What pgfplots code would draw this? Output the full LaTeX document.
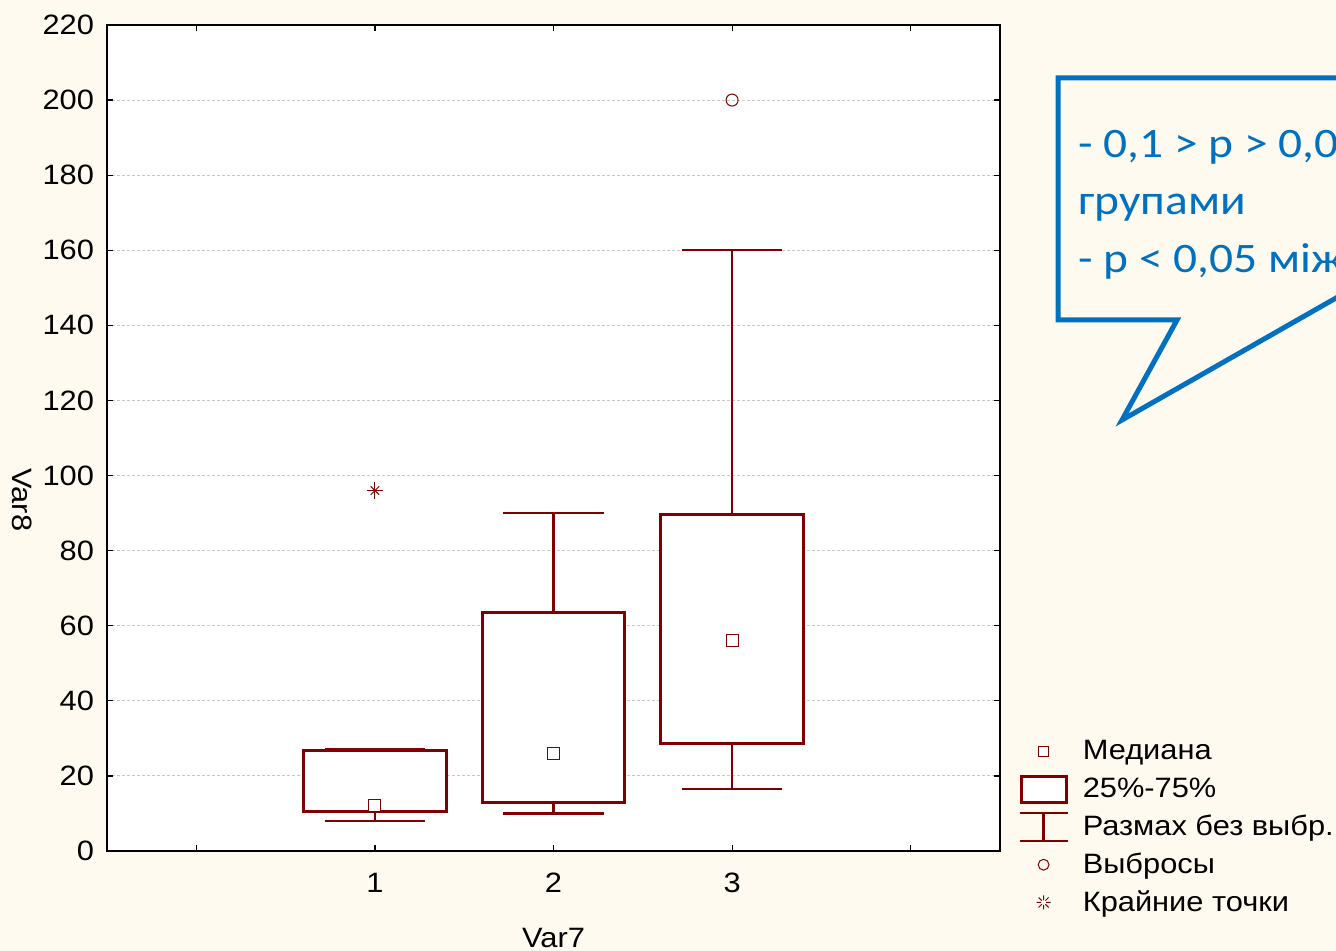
\documentclass[border=0pt]{standalone}
\usepackage{pgfplots}
\pgfplotsset{compat=1.18}
\usepgfplotslibrary{statistics}
\usepackage{fontspec}
\setmainfont[FakeStretch=1.1]{Liberation Sans}
\newfontfamily\callfont[FakeStretch=1.13]{Carlito}
\definecolor{bgc}{HTML}{FFFAF0}
\definecolor{dred}{HTML}{800000}
\definecolor{cblue}{HTML}{0070C0}
\begin{document}
\begin{tikzpicture}[x=0.5pt,y=0.5pt,font=\fontsize{14}{16.8}\selectfont]
\path[use as bounding box] (0,0) rectangle (1336,951);
\clip (0,0) rectangle (1336,951);
\fill[bgc] (0,0) rectangle (1336,951);
% callout
\draw[cblue, line width=2.5pt, fill=bgc, line join=miter]
  (1500,873) -- (1058,873) -- (1058,631) -- (1177,631) -- (1122,531) -- (1500,746.5) -- cycle;
\node[anchor=north west, align=left, text=cblue, inner sep=0pt,
      font=\callfont\fontsize{21}{28.75}\selectfont] at (1078,823)
  {- 0,1 > p > 0,05 між\\групами\\- p < 0,05 між групами};
\begin{axis}[
  at={(53.5pt,50pt)}, anchor=south west, scale only axis,
  width=446.5pt, height=413pt,
  xmin=-0.5, xmax=4.5, ymin=0, ymax=220,
  xtick={0,1,2,3,4}, xticklabels={,1,2,3,},
  ytick={0,20,...,220},
  tick align=inside, major tick length=3pt,
  tick style={black, line width=0.6pt},
  axis line style={black, line width=1pt},
  ymajorgrids,
  grid style={black!22, dash pattern=on 1.5pt off 1pt, line width=0.5pt},
  axis background/.style={fill=white},
  /pgf/number format/assume math mode=true,
  xticklabel style={yshift=-7.5pt},
  yticklabel style={xshift=-3pt},
  xlabel={Var7}, ylabel={Var8},
  xlabel style={at={(axis description cs:0.5,-0.105)}, anchor=center},
  ylabel style={at={(axis description cs:-0.095,0.425)}, anchor=center, rotate=180},
  boxplot/draw direction=y,
  boxplot/box extend=0.8,
  boxplot/whisker extend=0.56,
  boxplot/every box/.style={draw=dred, fill=white, line width=1.5pt},
  boxplot/every whisker/.style={draw=dred, line width=1.2pt},
  boxplot/draw/median/.code={},
  legend style={at={(axis description cs:1.0,0.145)}, anchor=north west, xshift=6pt,
    draw=none, fill=none, row sep=2.85pt, column sep=5.5pt, nodes={inner sep=1.5pt},
    font=\fontsize{14}{16.8}\selectfont},
  legend cell align=left,
]
\addlegendimage{legend image code/.code={
  \path[draw=none,fill=none] (0pt,-8pt) rectangle (24pt,8pt);
  \draw[dred, fill=white, line width=0.5pt] (9.5pt,-2.5pt) rectangle (14.5pt,2.5pt);}}
\addlegendentry{Медиана}
\addlegendimage{legend image code/.code={
  \path[draw=none,fill=none] (0pt,-8pt) rectangle (24pt,8pt);
  \draw[dred, fill=white, line width=1.5pt] (0.75pt,-6.5pt) rectangle (23.25pt,6.5pt);}}
\addlegendentry{25\%-75\%}
\addlegendimage{legend image code/.code={
  \path[draw=none,fill=none] (0pt,-8pt) rectangle (24pt,8pt);
  \draw[dred, line width=1.2pt] (0pt,7pt) -- (24pt,7pt) (12pt,7pt) -- (12pt,-7pt) (0pt,-7pt) -- (24pt,-7pt);}}
\addlegendentry{Размах без выбр.}
\addlegendimage{legend image code/.code={
  \path[draw=none,fill=none] (0pt,-8pt) rectangle (24pt,8pt);
  \draw[dred, line width=0.5pt] (12pt,0pt) circle (2.7pt);}}
\addlegendentry{Выбросы}
\addlegendimage{legend image code/.code={
  \path[draw=none,fill=none] (0pt,-8pt) rectangle (24pt,8pt);
  \draw[dred, line width=0.5pt] (8.5pt,0pt) -- (10.8pt,0pt) (13.2pt,0pt) -- (15.5pt,0pt)
     (12pt,-3.5pt) -- (12pt,-1.2pt) (12pt,1.2pt) -- (12pt,3.5pt)
     (9.5pt,-2.5pt) -- (11.1pt,-0.9pt) (12.9pt,0.9pt) -- (14.5pt,2.5pt)
     (9.5pt,2.5pt) -- (11.1pt,0.9pt) (12.9pt,-0.9pt) -- (14.5pt,-2.5pt);}}
\addlegendentry{Крайние точки}
% boxes
\addplot[forget plot, boxplot prepared={draw position=1, lower whisker=8, lower quartile=10.4,
   median=12, upper quartile=26.8, upper whisker=27.2}] coordinates {};
\addplot[forget plot, boxplot prepared={draw position=2, lower whisker=10, lower quartile=13,
   median=26, upper quartile=63.6, upper whisker=90}] coordinates {};
\addplot[forget plot, boxplot prepared={draw position=3, lower whisker=16.5, lower quartile=28.5,
   median=56, upper quartile=89.5, upper whisker=160}] coordinates {};
% medians
\addplot[forget plot, only marks, mark=square*, mark size=3pt,
  mark options={draw=dred, fill=white, line width=0.5pt}] coordinates {(1,12) (2,26) (3,56)};
% outliers
\addplot[forget plot, only marks, mark=o, mark size=3pt,
  mark options={draw=dred, line width=0.5pt}] coordinates {(3,200)};
% extreme points
\addplot[forget plot, only marks, mark=+, mark size=4.2pt,
  mark options={draw=dred, line width=0.5pt}] coordinates {(1,96)};
\addplot[forget plot, only marks, mark=x, mark size=3pt,
  mark options={draw=dred, line width=0.5pt}] coordinates {(1,96)};
\end{axis}
\end{tikzpicture}
\end{document}
